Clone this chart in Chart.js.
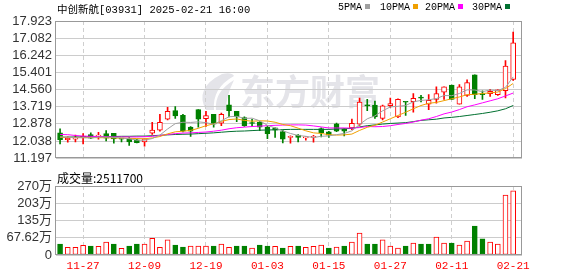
<!DOCTYPE html>
<html><head><meta charset="utf-8">
<script src="https://cdn.jsdelivr.net/npm/chart.js@4.4.1/dist/chart.umd.min.js"></script>
<style>
html,body{margin:0;padding:0;background:#fff;width:578px;height:276px;overflow:hidden;position:relative}
canvas{position:absolute;left:0}
#c1{top:0}
#c2{top:170px}
.t{position:absolute;white-space:nowrap;color:#000;z-index:2}
.sq{display:inline-block;width:5px;height:5px;margin-left:3px;vertical-align:1px}
</style></head><body>
<canvas id="c1" width="578" height="170" style="width:578px;height:170px"></canvas>
<canvas id="c2" width="578" height="106" style="width:578px;height:106px"></canvas>
<div class="t" id="title" style="left:57px;top:1px;font:10.5px 'Liberation Mono','Noto Sans CJK SC'">中创新航[03931] 2025-02-21 16:00</div>
<div id="legend"></div>
<div class="t" id="voltitle" style="left:57px;top:169px;font:12px 'Noto Sans CJK SC'">成交量:2511700</div>
<script>
// ---- data ----
const dates = ['11-22','11-25','11-26','11-27','11-28','11-29','12-02','12-03','12-04','12-05','12-06','12-09',
 '12-10','12-11','12-12','12-13','12-16','12-17','12-18','12-19','12-20','12-23','12-24','12-27','12-30','12-31',
 '01-02','01-03','01-06','01-07','01-08','01-09','01-10','01-13','01-14','01-15','01-16','01-17','01-20','01-21',
 '01-22','01-23','01-24','01-27','01-28','02-03','02-04','02-05','02-06','02-07','02-10','02-11','02-12','02-13',
 '02-14','02-17','02-18','02-19','02-20','02-21'];
const xTickDates = ['11-27','12-09','12-19','01-03','01-15','01-27','02-11','02-21'];

const open  = [12.44,12.10,12.13,12.19,12.36,12.28,12.41,12.42,12.15,12.16,12.10,11.99,12.42,12.57,13.11,13.53,13.30,12.72,13.58,13.13,
 13.35,12.91,13.81,13.49,13.19,12.92,12.96,12.72,12.68,12.50,12.22,12.33,12.19,12.22,12.65,12.49,12.88,12.63,12.68,12.86,
 13.78,13.80,13.15,13.77,13.22,13.96,13.97,14.16,13.85,14.08,14.43,14.78,13.85,14.27,15.29,14.33,14.36,14.31,14.51,15.06];
const high  = [12.64,12.24,12.33,12.41,12.44,12.47,12.55,12.42,12.16,12.21,12.12,12.15,12.96,13.35,13.69,13.73,13.35,12.75,13.58,13.49,
 13.35,13.41,14.28,13.49,13.22,13.10,12.99,12.79,12.68,12.57,12.29,12.36,12.24,12.32,12.68,12.52,12.92,12.65,13.11,14.15,
 14.08,14.00,13.80,14.15,14.11,13.96,14.36,14.28,14.31,14.70,14.70,14.78,14.81,15.04,15.29,14.50,14.57,14.55,15.98,17.38];
const low   = [11.90,11.98,11.99,11.90,12.16,12.13,12.05,11.93,12.00,11.82,11.94,11.79,12.36,12.52,13.07,13.15,12.49,12.26,12.72,12.75,
 12.72,12.79,13.22,12.99,12.75,12.75,12.55,12.16,12.21,11.94,11.93,11.99,12.08,11.98,12.24,12.22,12.50,12.29,12.60,12.80,
 13.53,13.15,13.07,13.69,13.19,13.30,13.45,13.95,13.58,13.89,14.08,14.08,13.85,14.23,14.11,14.08,14.23,14.28,14.15,15.01];
const close = [12.10,12.18,12.21,12.28,12.18,12.30,12.18,12.14,12.13,12.00,11.96,12.15,12.57,12.96,13.50,13.27,12.52,12.52,13.11,13.29,
 12.86,13.35,13.53,13.22,12.79,12.90,12.72,12.40,12.57,12.13,12.24,12.21,12.21,12.24,12.44,12.33,12.52,12.52,12.91,13.95,
 13.76,13.22,13.77,13.87,14.08,13.94,14.13,14.14,14.03,14.36,14.70,14.08,14.70,14.90,14.31,14.31,14.47,14.55,15.71,16.85];

const ma5  = [12.25,12.22,12.20,12.20,12.19,12.23,12.23,12.22,12.19,12.15,12.08,12.08,12.16,12.33,12.63,12.89,12.96,12.95,12.98,12.94,
 12.86,13.03,13.23,13.25,13.15,13.16,13.03,12.81,12.68,12.54,12.41,12.31,12.27,12.21,12.27,12.29,12.35,12.41,12.54,12.85,
 13.13,13.27,13.52,13.71,13.74,13.78,13.96,14.03,14.06,14.12,14.27,14.26,14.37,14.55,14.54,14.46,14.54,14.51,14.67,15.18];
const ma10 = [12.22,12.22,12.21,12.21,12.21,12.20,12.20,12.19,12.18,12.17,12.16,12.15,12.19,12.26,12.39,12.49,12.52,12.56,12.66,12.79,
 12.88,13.00,13.09,13.12,13.05,13.01,13.03,13.02,12.96,12.85,12.79,12.67,12.54,12.44,12.41,12.35,12.33,12.34,12.38,12.56,
 12.71,12.81,12.97,13.13,13.29,13.45,13.62,13.78,13.89,13.93,14.02,14.11,14.20,14.31,14.33,14.37,14.40,14.44,14.61,14.86];
const ma20 = [12.36,12.35,12.31,12.28,12.27,12.26,12.25,12.24,12.24,12.24,12.24,12.25,12.27,12.31,12.36,12.40,12.43,12.44,12.46,12.48,
 12.52,12.57,12.64,12.69,12.72,12.75,12.77,12.79,12.81,12.82,12.83,12.83,12.82,12.78,12.73,12.68,12.68,12.68,12.67,12.70,
 12.75,12.74,12.75,12.79,12.85,12.90,12.97,13.06,13.13,13.24,13.37,13.46,13.58,13.72,13.81,13.91,14.01,14.11,14.25,14.39];
const ma30 = [12.22,12.23,12.24,12.24,12.25,12.25,12.26,12.26,12.27,12.27,12.28,12.28,12.30,12.32,12.34,12.36,12.37,12.38,12.40,12.42,
 12.44,12.47,12.50,12.52,12.53,12.55,12.57,12.58,12.59,12.60,12.61,12.61,12.61,12.61,12.61,12.61,12.63,12.64,12.66,12.73,
 12.79,12.83,12.87,12.90,12.92,12.94,12.99,13.05,13.08,13.11,13.17,13.20,13.24,13.29,13.34,13.39,13.45,13.52,13.62,13.78];

// volume in 万 shares, direction vs previous close (1 up / -1 down)
const volume = [43,30,30,38,35,34,51,43,26,35,43,43,65,30,59,39,31,35,35,35,
 35,43,30,35,35,27,39,35,34,27,34,35,30,34,39,27,31,35,51,86,
 43,43,59,35,27,35,47,43,43,70,47,47,39,55,113,63,51,43,235,251.17];
const volDir = [-1,1,1,1,-1,1,1,-1,1,-1,-1,1,1,1,1,-1,-1,1,1,1,
 -1,1,1,-1,-1,1,-1,-1,1,-1,1,-1,1,1,1,-1,1,-1,1,1,
 -1,-1,1,1,1,-1,1,-1,-1,1,1,-1,1,1,-1,-1,1,1,1,1];

const priceTicks = [11.197,12.038,12.878,13.719,14.560,15.401,16.242,17.082,17.923];
const priceTickLabels = ['11.197','12.038','12.878','13.719','14.560','15.401','16.242','17.082','17.923'];
const volTicks = [0,67.62,135.24,202.86,270.48];
const volTickLabels = ['0','67.62万','135万','203万','270万'];

const maNames = ['5PMA','10PMA','20PMA','30PMA'];
const maSeries = [ma5, ma10, ma20, ma30];

// ---- styles ----
const RED = '#ff0000', GREEN = '#008000';
const maColors = ['#a0a0a0','#f0a000','#ff00ff','#007030'];
const legendLeft = [338,380,425,472];
const X_MIN = -0.53, X_MAX = 60.15;

// legend
const lg = document.getElementById('legend');
maNames.forEach((n,i)=>{
  const s = document.createElement('span');
  s.className = 't';
  s.style.cssText = `left:${legendLeft[i]}px;top:2px;font:10px 'Liberation Mono',monospace;`;
  s.innerHTML = n + `<i class="sq" style="background:${maColors[i]}"></i>`;
  lg.appendChild(s);
});

const tickIdx = xTickDates.map(d => dates.indexOf(d));
const up = close.map((c,i) => c >= open[i]);
const fontSans = "'Liberation Sans','Noto Sans CJK SC',sans-serif";

const framePlugin = {
  id:'frame',
  afterDraw(chart){
    const {ctx, chartArea:a} = chart;
    ctx.save();
    ctx.strokeStyle = '#999';
    ctx.lineWidth = 1;
    ctx.strokeRect(Math.round(a.left)-0.5, Math.round(a.top)+0.5, Math.round(a.right-a.left), Math.round(a.bottom-a.top)-1);
    ctx.restore();
  }
};

const watermark = {
  id:'wm',
  beforeDraw(chart){
    const ctx = chart.ctx;
    ctx.save();
    ctx.fillStyle = '#e4e4e9';
    ctx.beginPath();
    ctx.moveTo(206,110);
    ctx.quadraticCurveTo(194,88,222,74);
    ctx.quadraticCurveTo(232,72,234,76);
    ctx.quadraticCurveTo(212,88,214,110);
    ctx.closePath();
    ctx.fill();
    ctx.beginPath();
    ctx.moveTo(216,110);
    ctx.quadraticCurveTo(214,92,234,80);
    ctx.quadraticCurveTo(226,96,226,110);
    ctx.closePath();
    ctx.fill();
    ctx.font = "bold 35px 'Noto Sans CJK SC'";
    ctx.textBaseline = 'middle';
    ctx.fillText('东方财富', 240, 92);
    ctx.restore();
  }
};

const xCommon = (showLabels) => ({
  type:'linear', min:X_MIN, max:X_MAX, offset:false,
  afterBuildTicks: s => { s.ticks = tickIdx.map(v => ({value:v})); },
  ticks:{display:showLabels, autoSkip:false, maxRotation:0, padding:4,
    callback:(v,i)=> xTickDates[i], color:RED,
    font:{family:"'Liberation Mono',monospace", size:11}},
  grid:{color:'#cfcfcf', drawTicks:false, offset:false, lineWidth:1},
  border:{display:false, dash:[4,3]},
  afterFit: s => { s.height = showLabels ? 21 : 0; }
});

const yCommon = (ticks, labels) => ({
  type:'linear', min:ticks[0], max:ticks[ticks.length-1],
  afterBuildTicks: s => { s.ticks = ticks.map(v=>({value:v})); },
  ticks:{autoSkip:false, callback:(v,i)=>labels[i], color:'#333', padding:4, font:{family:fontSans, size:13}},
  grid:{color:'#cccccc', drawTicks:false},
  border:{display:false},
  afterFit: s => { s.width = 56; }
});

// ---- price chart ----
new Chart(document.getElementById('c1'), {
  type:'bar',
  data:{datasets:[
    ...maSeries.map((arr,k)=>({
      type:'line', label:maNames[k], data:arr.map((v,i)=>({x:i,y:v})),
      borderColor:maColors[k], borderWidth:1, pointRadius:0, fill:false, tension:0, order:0
    })),
    {type:'bar', label:'body', data:dates.map((d,i)=>({x:i, y:[Math.min(open[i],close[i]), Math.max(open[i],close[i])]})),
      barThickness:5, grouped:false, minBarLength:1,
      backgroundColor: up.map(u=> u ? '#ffffff' : GREEN),
      borderColor: up.map(u=> u ? RED : GREEN), borderWidth:1, borderSkipped:false, order:1},
    {type:'bar', label:'wick', data:dates.map((d,i)=>({x:i, y:[low[i], high[i]]})),
      barThickness:1, grouped:false,
      backgroundColor: up.map(u=> u ? RED : GREEN), borderWidth:0, order:2}
  ]},
  options:{
    responsive:false, animation:false, events:[],
    layout:{padding:{left:0,right:56,top:21,bottom:5}},
    plugins:{legend:{display:false}, tooltip:{enabled:false}},
    scales:{ x: xCommon(false), y: yCommon(priceTicks, priceTickLabels) }
  },
  plugins:[watermark, framePlugin]
});

// ---- volume chart ----
new Chart(document.getElementById('c2'), {
  type:'bar',
  data:{datasets:[
    {label:'vol', data:dates.map((d,i)=>({x:i, y:volume[i]})),
      barThickness:5, grouped:false,
      backgroundColor: volDir.map(d=> d>0 ? '#ffffff' : GREEN),
      borderColor: volDir.map(d=> d>0 ? RED : GREEN), borderWidth:1, borderSkipped:false}
  ]},
  options:{
    responsive:false, animation:false, events:[],
    layout:{padding:{left:0,right:56,top:16,bottom:0}},
    plugins:{legend:{display:false}, tooltip:{enabled:false}},
    scales:{ x: xCommon(true), y: yCommon(volTicks, volTickLabels) }
  },
  plugins:[framePlugin]
});
</script>
</body></html>
